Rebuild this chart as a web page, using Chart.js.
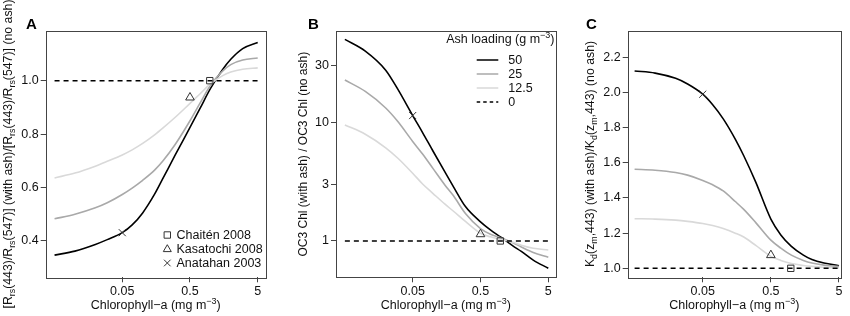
<!DOCTYPE html>
<html>
<head>
<meta charset="utf-8">
<script src="https://cdn.jsdelivr.net/npm/chart.js@4.4.1/dist/chart.umd.min.js"></script>
<style>
  body { margin: 0; background: #fff; }
  #wrap { position: relative; width: 850px; height: 316px; overflow: hidden; }
  canvas { position: absolute; top: 0; }
</style>
</head>
<body>
<div id="wrap">
  <canvas id="chartA" width="283" height="316" style="left:0px"></canvas>
  <canvas id="chartB" width="283" height="316" style="left:283px"></canvas>
  <canvas id="chartC" width="284" height="316" style="left:566px"></canvas>
</div>
<script>
// chlorophyll-a grid (mg m-3) the curves were read at
const chl = [0.005, 0.01, 0.02, 0.03, 0.05, 0.07, 0.1, 0.15, 0.2, 0.3, 0.5, 0.7, 1, 1.5, 2, 3, 5]
const baseChl = [0.005, 5]
const noAsh = [1, 1]

// panel A: band ratio, with ash / no ash
const ratioA50 = [0.347, 0.362, 0.387, 0.405, 0.431, 0.46, 0.505, 0.575, 0.635, 0.72, 0.825, 0.895, 0.97, 1.04, 1.08, 1.12, 1.143]
const ratioA25 = [0.483, 0.50, 0.524, 0.543, 0.574, 0.598, 0.627, 0.665, 0.70, 0.76, 0.85, 0.915, 0.982, 1.035, 1.06, 1.077, 1.085]
const ratioA12 = [0.636, 0.654, 0.68, 0.698, 0.722, 0.741, 0.765, 0.797, 0.823, 0.862, 0.915, 0.95, 0.988, 1.018, 1.032, 1.043, 1.048]

// panel B: OC3 chl, with ash / no ash
const ratioB50 = [50, 39.8, 27.5, 19.1, 11.4, 8.2, 5.7, 3.8, 2.86, 1.95, 1.45, 1.24, 1.076, 0.91, 0.817, 0.69, 0.589]
const ratioB25 = [22.7, 18.2, 13.2, 10.2, 6.9, 5.4, 4.07, 2.95, 2.4, 1.70, 1.27, 1.14, 1.06, 0.966, 0.89, 0.80, 0.73]
const ratioB12 = [9.5, 7.94, 6.1, 5.0, 3.72, 3.02, 2.51, 2.04, 1.78, 1.46, 1.16, 1.084, 1.028, 0.975, 0.92, 0.867, 0.84]

// panel C: Kd(zm,443), with ash / no ash
const ratioC50 = [2.122, 2.11, 2.08, 2.048, 1.99, 1.93, 1.85, 1.735, 1.64, 1.49, 1.28, 1.19, 1.125, 1.075, 1.05, 1.03, 1.015]
const ratioC25 = [1.563, 1.558, 1.545, 1.53, 1.50, 1.475, 1.44, 1.38, 1.335, 1.26, 1.16, 1.115, 1.075, 1.045, 1.03, 1.018, 1.01]
const ratioC12 = [1.282, 1.28, 1.274, 1.267, 1.255, 1.243, 1.226, 1.20, 1.178, 1.13, 1.068, 1.045, 1.027, 1.016, 1.011, 1.006, 1.003]

// eruptions
const eventNames = ['Chaitén 2008', 'Kasatochi 2008', 'Anatahan 2003']
const eventStyles = ['rect', 'triangle', 'crossRot']
const eventChl = [0.98, 0.5, 0.05]
const eventA = [1.0, 0.937, 0.431]
const eventB = [1.0, 1.14, 11.4]
const eventC = [1.0, 1.075, 1.99]

const ashLabels = ['50', '25', '12.5', '0']
const xTicks = [0.05, 0.5, 5]
const yTicksA = [0.4, 0.6, 0.8, 1.0]
const yTicksB = [1, 3, 10, 30]
const yTicksC = [1.0, 1.2, 1.4, 1.6, 1.8, 2.0, 2.2]

const FONT = "'Liberation Sans', Arial, Helvetica, sans-serif"
const FS = 12.5
const lineColors = ['#000000', '#a9a9a9', '#d9d9d9']
const H = 316

const toXY = (xs, ys) => xs.map((x, i) => ({ x: x, y: ys[i] }))

// text with sub/superscripts: parts = [[text, 'sub'|'sup'|undefined], ...]
function richWidth(ctx, parts, size) {
    let w = 0
    parts.forEach(p => {
        ctx.font = (p[1] ? size * 0.72 : size) + 'px ' + FONT
        w += ctx.measureText(p[0]).width
    })
    return w
}
function drawRich(ctx, parts, cx, cy, size, rotate) {
    ctx.save()
    ctx.translate(cx, cy)
    if (rotate) ctx.rotate(-Math.PI / 2)
    ctx.fillStyle = '#111'
    ctx.textBaseline = 'middle'
    ctx.textAlign = 'left'
    let x = -richWidth(ctx, parts, size) / 2
    parts.forEach(p => {
        const s = p[1] ? size * 0.72 : size
        ctx.font = s + 'px ' + FONT
        let dy = 0
        if (p[1] === 'sub') dy = size * 0.3
        if (p[1] === 'sup') dy = -size * 0.38
        ctx.fillText(p[0], x, dy)
        x += ctx.measureText(p[0]).width
    })
    ctx.restore()
}

function drawSymbol(ctx, style, x, y) {
    ctx.save()
    ctx.strokeStyle = '#333'
    ctx.lineWidth = 1
    ctx.beginPath()
    if (style === 'rect') {
        ctx.rect(x - 3.2, y - 3.2, 6.4, 6.4)
    } else if (style === 'triangle') {
        ctx.moveTo(x, y - 4.3)
        ctx.lineTo(x + 4, y + 2.6)
        ctx.lineTo(x - 4, y + 2.6)
        ctx.closePath()
    } else {
        ctx.moveTo(x - 3.3, y - 3.3); ctx.lineTo(x + 3.3, y + 3.3)
        ctx.moveTo(x + 3.3, y - 3.3); ctx.lineTo(x - 3.3, y + 3.3)
    }
    ctx.stroke()
    ctx.restore()
}

const xTitle = [['Chlorophyll\u2212a (mg m'], ['\u22123', 'sup'], [')']]

// box, panel letter, axis titles and legends
const decorPlugin = {
    id: 'decor',
    afterDraw(chart, args, o) {
        const ctx = chart.ctx
        const a = chart.chartArea
        ctx.save()
        ctx.strokeStyle = '#444'
        ctx.lineWidth = 1
        ctx.strokeRect(Math.round(a.left) + 0.5, Math.round(a.top) + 0.5,
            Math.round(a.right - a.left), Math.round(a.bottom - a.top))
        ctx.fillStyle = '#000'
        ctx.font = 'bold 15px ' + FONT
        ctx.textBaseline = 'alphabetic'
        ctx.fillText(o.letter, o.letterX, 29)
        ctx.restore()
        drawRich(ctx, xTitle, (a.left + a.right) / 2, 306, FS, false)
        drawRich(ctx, o.yTitle, o.yTitleX, (a.top + a.bottom) / 2, o.yTitleSize, true)
        if (o.legend) o.legend(ctx)
    }
}

function legendEvents(ctx) {
    const rowsY = [235, 249, 263]
    eventNames.forEach((name, i) => {
        drawSymbol(ctx, eventStyles[i], 167.3, rowsY[i])
        ctx.save()
        ctx.fillStyle = '#111'
        ctx.font = FS + 'px ' + FONT
        ctx.textBaseline = 'middle'
        ctx.fillText(name, 176.5, rowsY[i] + 0.5)
        ctx.restore()
    })
}

function legendAsh(ctx) {
    ctx.save()
    const titleParts = [['Ash loading (g m'], ['\u22123', 'sup'], [')']]
    const w = richWidth(ctx, titleParts, FS)
    drawRich(ctx, titleParts, 271.5 - w / 2, 40, FS, false)
    const rowsY = [60, 74, 88, 102]
    ashLabels.forEach((lab, i) => {
        ctx.beginPath()
        ctx.lineWidth = 1.5
        ctx.strokeStyle = i < 3 ? lineColors[i] : '#000'
        ctx.setLineDash(i < 3 ? [] : [3.5, 3])
        ctx.moveTo(193.7, rowsY[i])
        ctx.lineTo(215.3, rowsY[i])
        ctx.stroke()
        ctx.setLineDash([])
        ctx.fillStyle = '#111'
        ctx.font = FS + 'px ' + FONT
        ctx.textBaseline = 'middle'
        ctx.fillText(lab, 225.3, rowsY[i] + 0.5)
    })
    ctx.restore()
}

function makePanel(id, p) {
    const series = [p.y50, p.y25, p.y12]
    const datasets = series.map((ys, i) => ({
        data: toXY(chl, ys),
        borderColor: lineColors[i],
        borderWidth: 1.6,
        pointRadius: 0,
        cubicInterpolationMode: 'monotone',
        order: 3 - i
    }))
    datasets.push({
        data: toXY(baseChl, noAsh),
        borderColor: '#000',
        borderWidth: 1.5,
        borderDash: [5, 4],
        pointRadius: 0,
        order: 0
    })
    eventNames.forEach((name, i) => {
        datasets.push({
            data: [{ x: eventChl[i], y: p.events[i] }],
            showLine: false,
            pointStyle: eventStyles[i],
            pointRadius: i === 0 ? 4.5 : 5,
            pointBorderColor: '#333',
            pointBackgroundColor: 'rgba(0,0,0,0)',
            pointBorderWidth: 1,
            order: -1
        })
    })

    const tickFont = { family: FONT, size: FS }
    return new Chart(document.getElementById(id).getContext('2d'), {
        type: 'line',
        data: { datasets: datasets },
        plugins: [decorPlugin],
        options: {
            responsive: false,
            devicePixelRatio: 1,
            animation: false,
            events: [],
            layout: { padding: { top: p.area.top, right: p.canvasW - p.area.right, left: 0, bottom: 0 } },
            plugins: {
                legend: { display: false },
                tooltip: { enabled: false },
                decor: { letter: p.letter, letterX: p.letterX, yTitle: p.yTitle, yTitleX: p.yTitleX, yTitleSize: p.yTitleSize, legend: p.legend }
            },
            scales: {
                x: {
                    type: 'logarithmic',
                    min: p.xMin,
                    max: p.xMax,
                    afterBuildTicks: s => { s.ticks = xTicks.map(v => ({ value: v })) },
                    afterFit: s => { s.height = H - p.area.bottom },
                    ticks: { callback: v => String(v), font: tickFont, color: '#111', padding: 2, maxRotation: 0, autoSkip: false },
                    grid: { drawOnChartArea: false, tickLength: 5, color: '#444' },
                    border: { display: false }
                },
                y: {
                    type: p.yType,
                    min: p.yMin,
                    max: p.yMax,
                    afterBuildTicks: s => { s.ticks = p.yTicks.map(v => ({ value: v })) },
                    afterFit: s => { s.width = p.area.left },
                    ticks: { callback: p.yFmt, font: tickFont, color: '#111', padding: 2, autoSkip: false },
                    grid: { drawOnChartArea: false, tickLength: 5, color: '#444' },
                    border: { display: false }
                }
            }
        }
    })
}

makePanel('chartA', {
    canvasW: 283,
    area: { left: 45.7, top: 30.7, right: 265.7, bottom: 277.3 },
    xMin: 0.0037, xMax: 6.56,
    yType: 'linear', yMin: 0.264, yMax: 1.187, yTicks: yTicksA, yFmt: v => v.toFixed(1),
    y50: ratioA50, y25: ratioA25, y12: ratioA12, events: eventA,
    letter: 'A', letterX: 26, yTitleX: 9, yTitleSize: 12.3,
    yTitle: [['[R'], ['rs', 'sub'], ['(443)/R'], ['rs', 'sub'], ['(547)] (with ash)/[R'], ['rs', 'sub'], ['(443)/R'], ['rs', 'sub'], ['(547)] (no ash)']],
    legend: legendEvents
})

makePanel('chartB', {
    canvasW: 283,
    area: { left: 53, top: 31, right: 272.7, bottom: 277.3 },
    xMin: 0.0037, xMax: 6.43,
    yType: 'logarithmic', yMin: 0.494, yMax: 58.8, yTicks: yTicksB, yFmt: v => String(v),
    y50: ratioB50, y25: ratioB25, y12: ratioB12, events: eventB,
    letter: 'B', letterX: 25, yTitleX: 20.5, yTitleSize: 12,
    yTitle: [['OC3 Chl (with ash) / OC3 Chl (no ash)']],
    legend: legendAsh
})

makePanel('chartC', {
    canvasW: 284,
    area: { left: 61.7, top: 30.7, right: 275, bottom: 277.3 },
    xMin: 0.00396, xMax: 5.35,
    yType: 'linear', yMin: 0.949, yMax: 2.351, yTicks: yTicksC, yFmt: v => v.toFixed(1),
    y50: ratioC50, y25: ratioC25, y12: ratioC12, events: eventC,
    letter: 'C', letterX: 20, yTitleX: 25, yTitleSize: 12.3,
    yTitle: [['K'], ['d', 'sub'], ['(z'], ['m', 'sub'], [',443) (with ash)/K'], ['d', 'sub'], ['(z'], ['m', 'sub'], [',443) (no ash)']]
})
</script>
</body>
</html>
